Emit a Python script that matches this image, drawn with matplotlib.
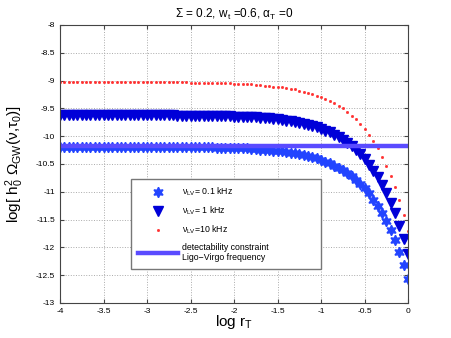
import numpy as np
import matplotlib
matplotlib.use('Agg')
import matplotlib.pyplot as plt

plt.rcParams['font.family'] = ['Liberation Sans', 'DejaVu Sans']
plt.rcParams['mathtext.fontset'] = 'custom'
plt.rcParams['mathtext.rm'] = 'Liberation Sans'
plt.rcParams['mathtext.it'] = 'Liberation Sans'
plt.rcParams['mathtext.default'] = 'regular'
plt.rcParams['axes.unicode_minus'] = False

# log r_T sampling grid
log_r = np.linspace(-4, 0, 81)

# nu_LV = 0.1 kHz (stars)
omega_01 = [
    -10.19, -10.19, -10.19, -10.19, -10.19, -10.19, -10.19, -10.19, -10.19, -10.19,
    -10.19, -10.19, -10.19, -10.19, -10.19, -10.19, -10.19, -10.19, -10.19, -10.19,
    -10.19, -10.19, -10.19, -10.19, -10.19, -10.19, -10.19, -10.20, -10.20, -10.20,
    -10.20, -10.20, -10.20, -10.20, -10.20, -10.20, -10.21, -10.21, -10.21, -10.21,
    -10.21, -10.22, -10.22, -10.22, -10.23, -10.23, -10.24, -10.24, -10.25, -10.26,
    -10.27, -10.27, -10.28, -10.30, -10.31, -10.32, -10.34, -10.36, -10.38, -10.40,
    -10.43, -10.46, -10.49, -10.53, -10.57, -10.61, -10.66, -10.72, -10.79, -10.86,
    -10.94, -11.03, -11.14, -11.25, -11.38, -11.53, -11.69, -11.87, -12.08, -12.31,
    -12.57,
]

# nu_LV = 1 kHz (triangles)
omega_1 = [
    -9.62, -9.62, -9.62, -9.62, -9.62, -9.62, -9.62, -9.62, -9.62, -9.62,
    -9.62, -9.62, -9.62, -9.62, -9.62, -9.62, -9.62, -9.62, -9.62, -9.62,
    -9.62, -9.62, -9.62, -9.62, -9.62, -9.62, -9.62, -9.63, -9.63, -9.63,
    -9.63, -9.63, -9.63, -9.63, -9.63, -9.63, -9.64, -9.64, -9.64, -9.64,
    -9.65, -9.65, -9.65, -9.66, -9.66, -9.66, -9.67, -9.68, -9.68, -9.69,
    -9.70, -9.71, -9.72, -9.73, -9.75, -9.76, -9.78, -9.80, -9.82, -9.84,
    -9.87, -9.90, -9.93, -9.97, -10.02, -10.06, -10.12, -10.18, -10.25, -10.32,
    -10.41, -10.51, -10.62, -10.74, -10.87, -11.03, -11.20, -11.39, -11.61, -11.85,
    -12.12,
]

# nu_LV = 10 kHz (red dots)
omega_10 = [
    -9.02, -9.02, -9.02, -9.02, -9.02, -9.02, -9.02, -9.02, -9.02, -9.02,
    -9.02, -9.02, -9.02, -9.02, -9.02, -9.02, -9.02, -9.02, -9.02, -9.02,
    -9.03, -9.03, -9.03, -9.03, -9.03, -9.03, -9.03, -9.03, -9.03, -9.03,
    -9.04, -9.04, -9.04, -9.04, -9.04, -9.04, -9.05, -9.05, -9.05, -9.05,
    -9.06, -9.06, -9.06, -9.07, -9.07, -9.08, -9.08, -9.09, -9.10, -9.11,
    -9.11, -9.12, -9.14, -9.15, -9.16, -9.18, -9.20, -9.22, -9.24, -9.27,
    -9.30, -9.33, -9.37, -9.41, -9.45, -9.50, -9.56, -9.63, -9.70, -9.78,
    -9.87, -9.98, -10.09, -10.22, -10.37, -10.53, -10.71, -10.92, -11.15, -11.41,
    -11.70,
]

# detectability constraint, Ligo-Virgo frequency
detect_level = -10.18

xticks = np.arange(-4, 0.01, 0.5)
yticks = np.arange(-13, -7.99, 0.5)

fig = plt.figure(figsize=(4.51, 3.38), dpi=100)
ax = fig.add_axes([0.133, 0.1036, 0.772, 0.8225])

ax.plot(log_r, omega_01, linestyle='none', marker=(6, 1, 0), markersize=7.5,
        color='#2244ff', label=r'$\nu_{LV}$= 0.1 kHz')
ax.plot(log_r, omega_1, linestyle='none', marker='v', markersize=6.5,
        color='#0000d8', label=r'$\nu_{LV}$= 1 kHz')
ax.plot(log_r, omega_10, linestyle='none', marker='s', markersize=1.0,
        color='#ff3030', label=r'$\nu_{LV}$=10 kHz')
ax.axhline(detect_level, color='#5a4bff', linewidth=3.2,
           label='detectability constraint\nLigo\u2212Virgo frequency')

ax.set_xlim(-4, 0)
ax.set_ylim(-13, -8)
ax.set_xticks(xticks)
ax.set_yticks(yticks)
ax.set_xticklabels(['%g' % t for t in xticks])
ax.set_yticklabels(['%g' % t for t in yticks])
ax.tick_params(direction='in', labelsize=6, length=3, top=True, right=True,
               color='#444444')
ax.grid(True, linestyle=':', color='#aaaaaa', linewidth=0.7)
for s in ax.spines.values():
    s.set_color('#444444')
    s.set_linewidth(0.8)

ax.set_title(r'$\Sigma$ = 0.2, w$_{t}$ =0.6, $\alpha_{T}$ =0', fontsize=8.5, pad=5)
ax.set_xlabel(r'log r$_{T}$', fontsize=11, labelpad=-1)
ax.set_ylabel(r'log[ h$_0^2$ $\Omega_{GW}$($\nu$,$\tau_0$)]', fontsize=11, labelpad=7)

leg = ax.legend(loc='lower left', bbox_to_anchor=(0.204, 0.121, 0.546, 0.321),
                mode='expand', fontsize=6.3, frameon=True, fancybox=False,
                edgecolor='#777777', framealpha=1, borderpad=0.8,
                labelspacing=0.75, handlelength=4.6, handletextpad=0.45,
                borderaxespad=0)
leg.get_frame().set_linewidth(1.0)

fig.savefig('out.png', dpi=100)
